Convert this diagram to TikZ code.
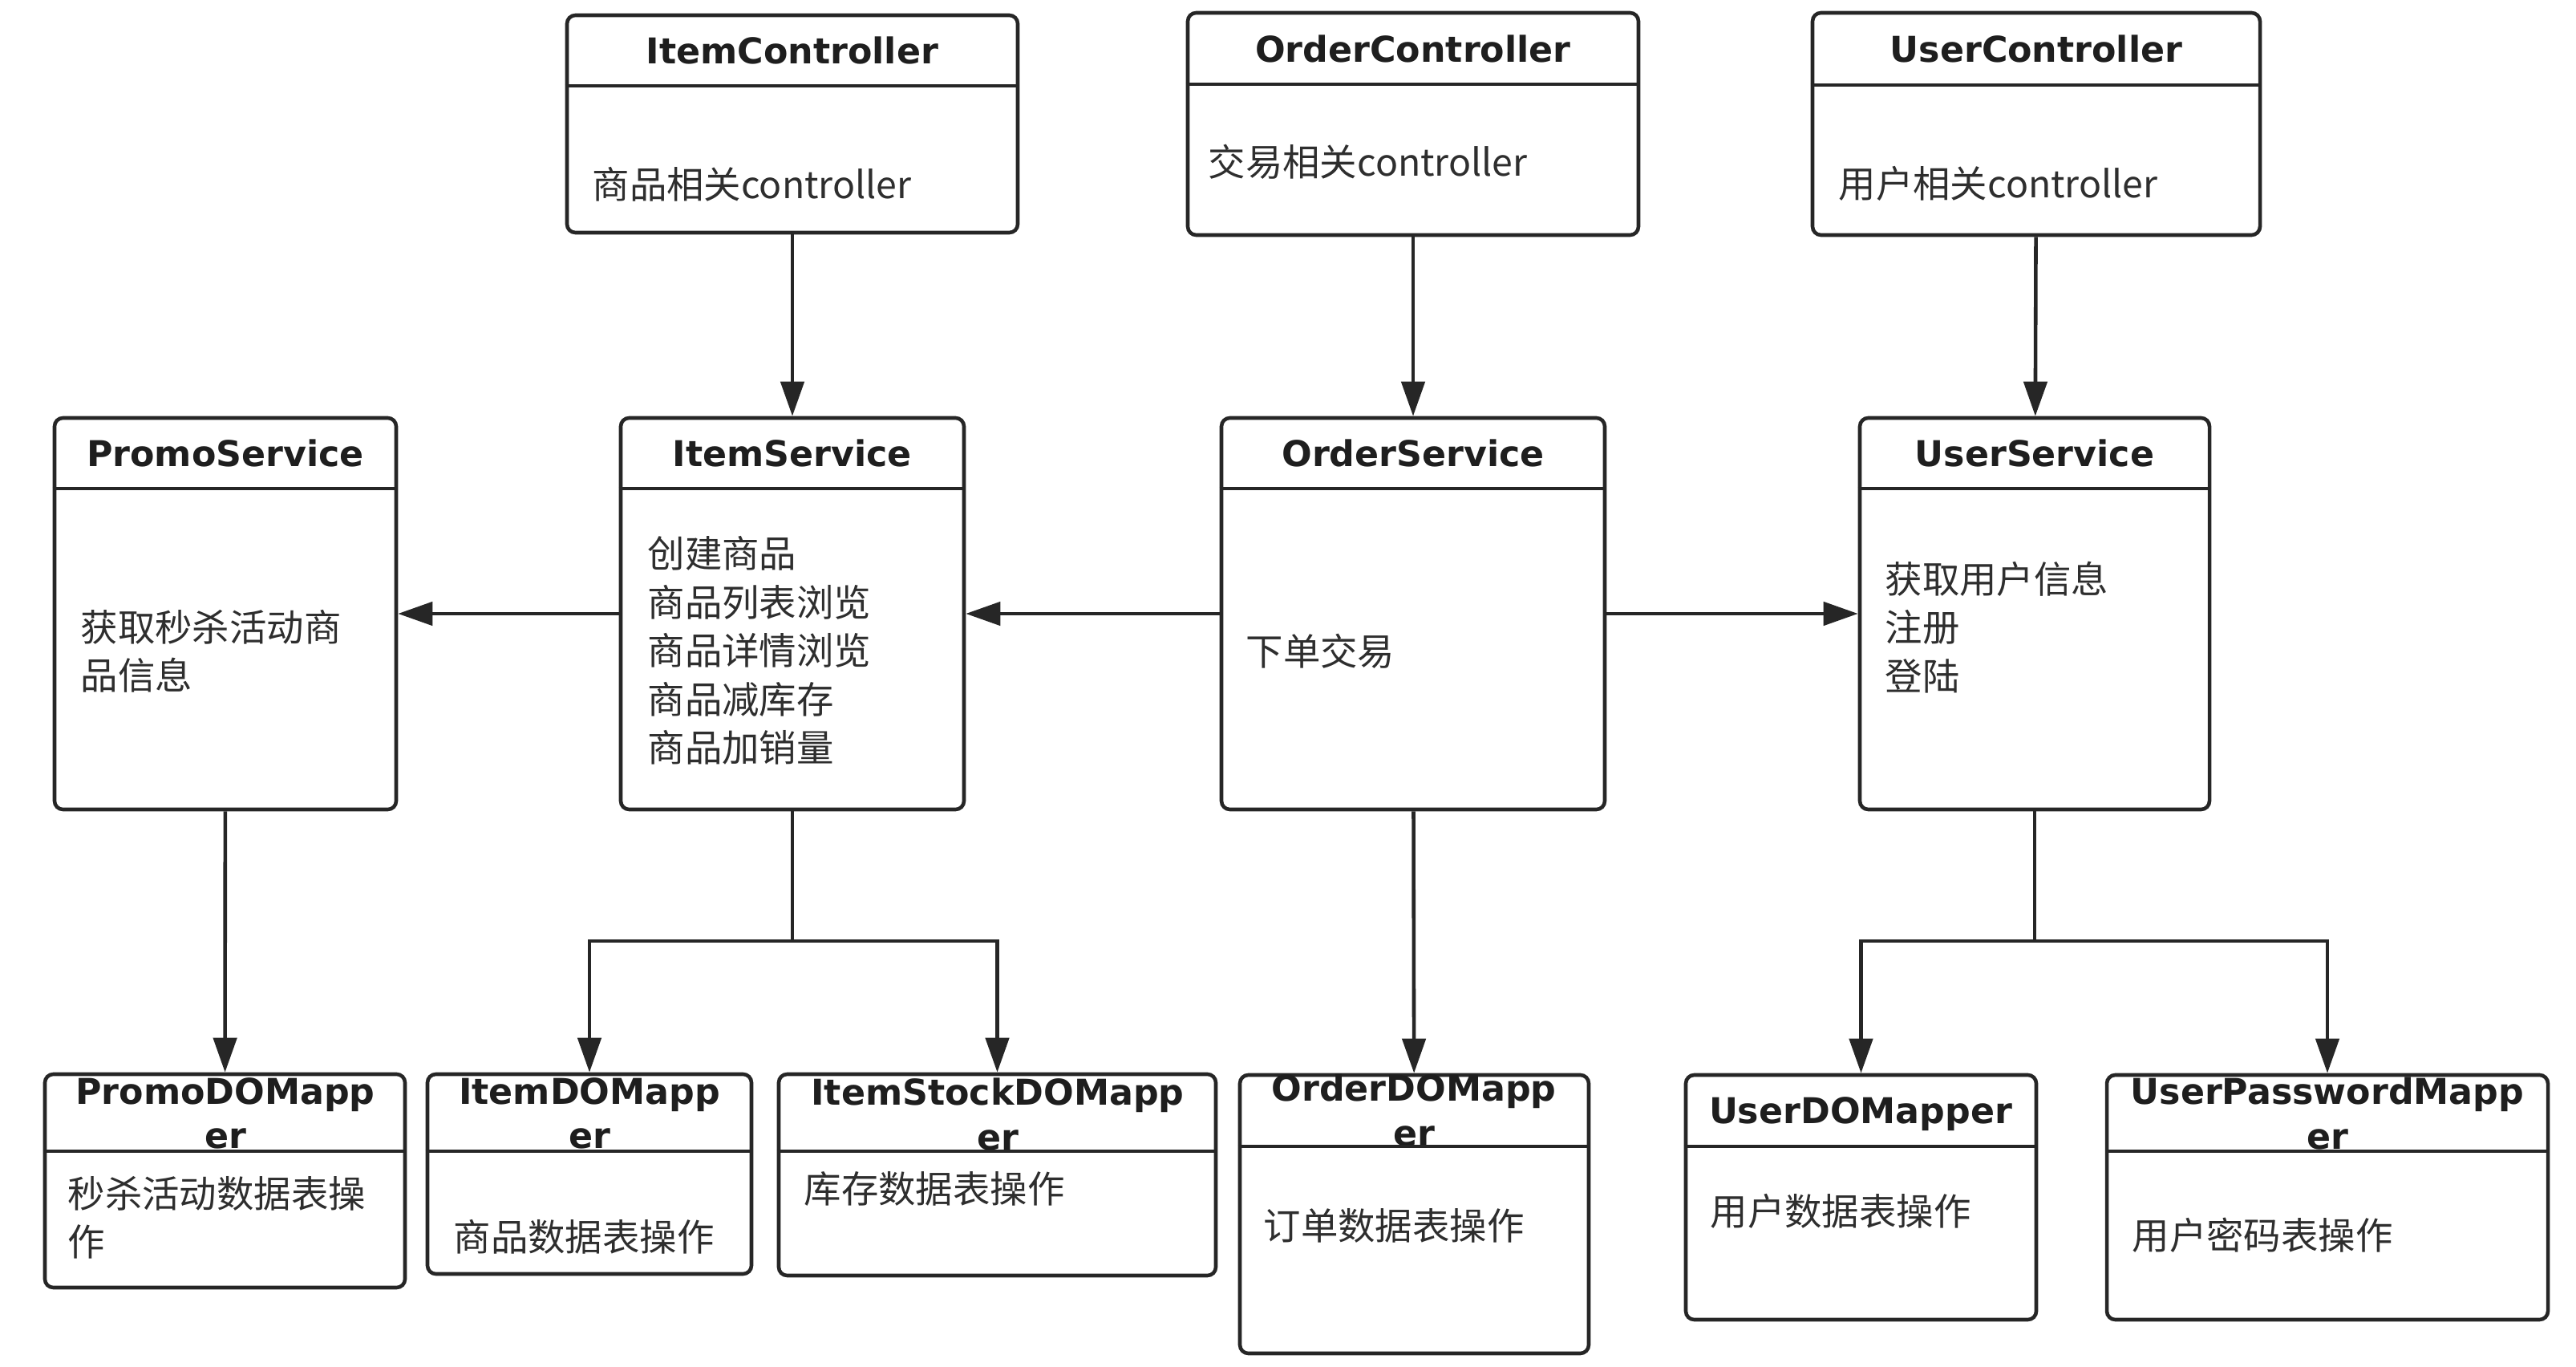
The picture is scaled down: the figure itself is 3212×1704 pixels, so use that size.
\documentclass[tikz,border=0pt]{standalone}
\usepackage{fontspec}
\setmainfont{Noto Sans CJK SC}
\newfontfamily\titlefont{DejaVu Sans}
\usetikzlibrary{arrows.meta,fit}
\definecolor{ClassLine}{HTML}{262626}
\definecolor{ClassTitle}{HTML}{1E1E1E}
\definecolor{ClassText}{HTML}{2E2E2E}
\tikzset{
  classbox/.style={draw=ClassLine,line width=1.3pt,rounded corners=3pt,
    inner sep=0pt,fill=white},
  classrule/.style={ClassLine,line width=1.3pt},
  classtitle/.style={text=ClassTitle,inner sep=0pt,align=center,
    font=\titlefont\bfseries\fontsize{12.6}{15.8}\selectfont},
  classbody/.style={text=ClassText,inner sep=0pt,align=left,anchor=west,
    font=\fontsize{13.2}{17.2}\selectfont},
  link/.style={ClassLine,line width=1.3pt},
  flow/.style={link,-{Triangle[length=0.43cm,width=0.29cm]}},
}

\begin{document}
\begin{tikzpicture}[x=0.01cm,y=-0.01cm]
  \useasboundingbox[fill=white] (0,0) rectangle (3212,1704);

  % controllers
  \node[classbox,fit={(707,19) (1269,290)}] (itemctrl) {};
  \node[classtitle,anchor=base] (itemctrltitle) at (988,80) {ItemController};
  \draw[classrule] (itemctrl.west |- 0,107) -- (itemctrl.east |- 0,107);
  \node[classbody] (itemctrlbody) at (738,230) {商品相关controller};

  \node[classbox,fit={(1481,16) (2043,293)}] (orderctrl) {};
  \node[classtitle,anchor=base] (orderctrltitle) at (1762,78) {OrderController};
  \draw[classrule] (orderctrl.west |- 0,105) -- (orderctrl.east |- 0,105);
  \node[classbody] (orderctrlbody) at (1506,202) {交易相关controller};

  \node[classbox,fit={(2260,16) (2818,293)}] (userctrl) {};
  \node[classtitle,anchor=base] (userctrltitle) at (2539,78) {UserController};
  \draw[classrule] (userctrl.west |- 0,106) -- (userctrl.east |- 0,106);
  \node[classbody] (userctrlbody) at (2292,229) {用户相关controller};

  % services
  \node[classbox,fit={(68,521) (494,1009)}] (promosvc) {};
  \node[classtitle,anchor=base] (promosvctitle) at (281,582) {PromoService};
  \draw[classrule] (promosvc.west |- 0,609) -- (promosvc.east |- 0,609);
  \node[classbody] (promosvcbody) at (100,812) {获取秒杀活动商\\品信息};

  \node[classbox,fit={(774,521) (1202,1009)}] (itemsvc) {};
  \node[classtitle,anchor=base] (itemsvctitle) at (988,582) {ItemService};
  \draw[classrule] (itemsvc.west |- 0,609) -- (itemsvc.east |- 0,609);
  \node[classbody] (itemsvcbody) at (807,811)
    {创建商品\\商品列表浏览\\商品详情浏览\\商品减库存\\商品加销量};

  \node[classbox,fit={(1523,521) (2001,1009)}] (ordersvc) {};
  \node[classtitle,anchor=base] (ordersvctitle) at (1762,582) {OrderService};
  \draw[classrule] (ordersvc.west |- 0,609) -- (ordersvc.east |- 0,609);
  \node[classbody] (ordersvcbody) at (1553,812) {下单交易};

  \node[classbox,fit={(2319,521) (2755,1009)}] (usersvc) {};
  \node[classtitle,anchor=base] (usersvctitle) at (2537,582) {UserService};
  \draw[classrule] (usersvc.west |- 0,609) -- (usersvc.east |- 0,609);
  \node[classbody] (usersvcbody) at (2350,782) {获取用户信息\\注册\\登陆};

  % mappers
  \node[classbox,fit={(56,1339) (505,1605)}] (promomap) {};
  \node[classtitle] (promomaptitle) at (281,1388) {PromoDOMapp\\er};
  \draw[classrule] (promomap.west |- 0,1435) -- (promomap.east |- 0,1435);
  \node[classbody] (promomapbody) at (84,1518) {秒杀活动数据表操\\作};

  \node[classbox,fit={(533,1339) (937,1588)}] (itemmap) {};
  \node[classtitle] (itemmaptitle) at (735,1388) {ItemDOMapp\\er};
  \draw[classrule] (itemmap.west |- 0,1435) -- (itemmap.east |- 0,1435);
  \node[classbody] (itemmapbody) at (565,1542) {商品数据表操作};

  \node[classbox,fit={(971,1339) (1516,1590)}] (stockmap) {};
  \node[classtitle] (stockmaptitle) at (1244,1389) {ItemStockDOMapp\\er};
  \draw[classrule] (stockmap.west |- 0,1435) -- (stockmap.east |- 0,1435);
  \node[classbody] (stockmapbody) at (1002,1482) {库存数据表操作};

  \node[classbox,fit={(1546,1340) (1981,1687)}] (ordermap) {};
  \node[classtitle] (ordermaptitle) at (1763,1384) {OrderDOMapp\\er};
  \draw[classrule] (ordermap.west |- 0,1429) -- (ordermap.east |- 0,1429);
  \node[classbody] (ordermapbody) at (1575,1528) {订单数据表操作};

  \node[classbox,fit={(2102,1340) (2539,1645)}] (userdomap) {};
  \node[classtitle,anchor=base] (userdomaptitle) at (2320,1400) {UserDOMapper};
  \draw[classrule] (userdomap.west |- 0,1429) -- (userdomap.east |- 0,1429);
  \node[classbody] (userdomapbody) at (2132,1510) {用户数据表操作};

  \node[classbox,fit={(2627,1340) (3177,1645)}] (userpwmap) {};
  \node[classtitle] (userpwmaptitle) at (2902,1388) {UserPasswordMapp\\er};
  \draw[classrule] (userpwmap.west |- 0,1435) -- (userpwmap.east |- 0,1435);
  \node[classbody] (userpwmapbody) at (2658,1540) {用户密码表操作};

  % connectors
  \draw[flow] (itemctrl) -- (itemsvc);
  \draw[flow] (orderctrl) -- (ordersvc);
  \draw[flow] (userctrl) -- (usersvc);
  \draw[flow] (itemsvc) -- (promosvc);
  \draw[flow] (ordersvc) -- (itemsvc);
  \draw[flow] (ordersvc) -- (usersvc);
  \draw[flow] (promosvc) -- (promomap);
  \draw[flow] (ordersvc) -- (ordermap);

  \coordinate (itemfork) at (988,1173);
  \draw[link] (itemsvc) -- (itemfork);
  \draw[flow] (itemfork) -| (itemmap);
  \draw[flow] (itemfork) -| (stockmap);

  \coordinate (userfork) at (2537,1173);
  \draw[link] (usersvc) -- (userfork);
  \draw[flow] (userfork) -| (userdomap);
  \draw[flow] (userfork) -| (userpwmap);
\end{tikzpicture}
\end{document}
